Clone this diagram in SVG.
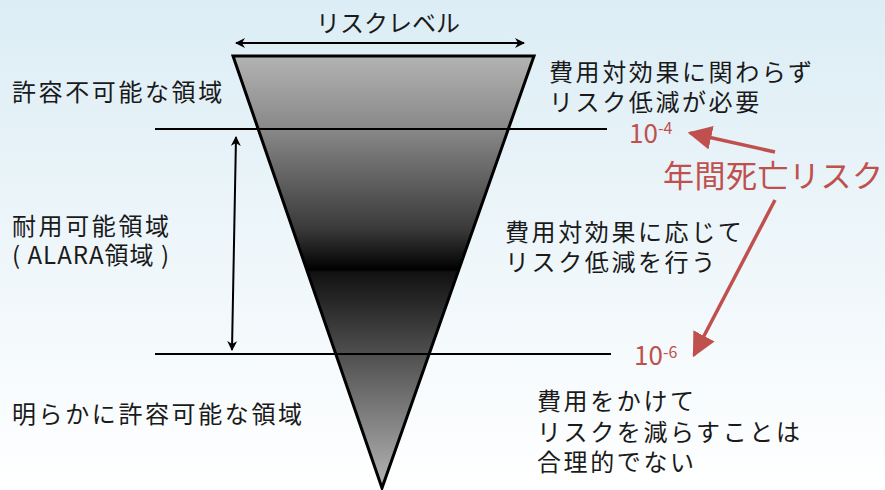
<svg xmlns="http://www.w3.org/2000/svg" width="885" height="490" viewBox="0 0 885 490">
<defs>
<linearGradient id="bg" x1="0" y1="0" x2="0" y2="1">
<stop offset="0" stop-color="#dcedf5"/>
<stop offset="1" stop-color="#ffffff"/>
</linearGradient>
<linearGradient id="tri" x1="0" y1="0" x2="0" y2="1">
<stop offset="0" stop-color="#b3b3b3"/>
<stop offset="0.17" stop-color="#888888"/>
<stop offset="0.40" stop-color="#3a3a3a"/>
<stop offset="0.495" stop-color="#000000"/>
<stop offset="0.5" stop-color="#111111"/>
<stop offset="1" stop-color="#b5b5b5"/>
</linearGradient>
<marker id="ah" viewBox="0 0 10 10" refX="9" refY="5" markerWidth="10" markerHeight="10" markerUnits="userSpaceOnUse" orient="auto-start-reverse">
<path d="M0,0 L10,5 L0,10 L3,5 Z" fill="#000"/>
</marker>
<marker id="rh" viewBox="0 0 10 10" refX="9" refY="5" markerWidth="24" markerHeight="24" markerUnits="userSpaceOnUse" orient="auto">
<path d="M0,0 L10,5 L0,10 Z" fill="#c0504d"/>
</marker>
</defs>
<style>
text{font-family:"Noto Sans CJK JP","Noto Sans",sans-serif;fill:#1a1a1a;font-size:24px;letter-spacing:2.6px}
.red{fill:#c0504d;letter-spacing:0}
.num{font-size:26px}
.sup{font-size:16px}
.big{font-size:31px;letter-spacing:0.5px}
.blk{stroke:#000;stroke-width:2;fill:none}
.rl{stroke:#c0504d;stroke-width:3.5;fill:none}
</style>
<rect width="885" height="490" fill="url(#bg)"/>
<g id="triangle">
<polygon points="233,56 534,56 382,488" fill="url(#tri)" stroke="#000" stroke-width="3" stroke-linejoin="miter"/>
</g>
<g id="connectors">
<line class="blk" x1="155" y1="129" x2="607" y2="129" stroke-width="2.5"/>
<line class="blk" x1="155" y1="354" x2="611" y2="354" stroke-width="2.5"/>
<line class="blk" x1="236" y1="43" x2="524" y2="43" marker-start="url(#ah)" marker-end="url(#ah)"/>
<line class="blk" x1="236" y1="137" x2="232" y2="350" marker-start="url(#ah)" marker-end="url(#ah)"/>
<line class="rl" x1="775" y1="152" x2="690" y2="133" marker-end="url(#rh)"/>
<line class="rl" x1="775" y1="200" x2="694" y2="355" marker-end="url(#rh)"/>
</g>
<g id="risk-level"><text x="388" y="32" text-anchor="middle" style="letter-spacing:0">リスクレベル</text></g>
<g id="unacceptable"><text x="12" y="101">許容不可能な領域</text></g>
<g id="unacceptable-note"><text x="549" y="81">費用対効果に関わらず</text><text x="549" y="111">リスク低減が必要</text></g>
<g id="tolerable"><text x="12" y="235">耐用可能領域</text><text x="12" y="264" style="letter-spacing:1px">( ALARA領域 )</text></g>
<g id="tolerable-note"><text x="505" y="241">費用対効果に応じて</text><text x="505" y="271">リスク低減を行う</text></g>
<g id="acceptable"><text x="12" y="423">明らかに許容可能な領域</text></g>
<g id="acceptable-note"><text x="537" y="410">費用をかけて</text><text x="537" y="441">リスクを減らすことは</text><text x="537" y="471">合理的でない</text></g>
<g id="label-1e-4"><text class="red num" x="629" y="143">10<tspan class="sup" dy="-9">-4</tspan></text></g>
<g id="label-1e-6"><text class="red num" x="634" y="365">10<tspan class="sup" dy="-7">-6</tspan></text></g>
<g id="annual-risk"><text class="red big" x="663" y="187">年間死亡リスク</text></g>
</svg>
